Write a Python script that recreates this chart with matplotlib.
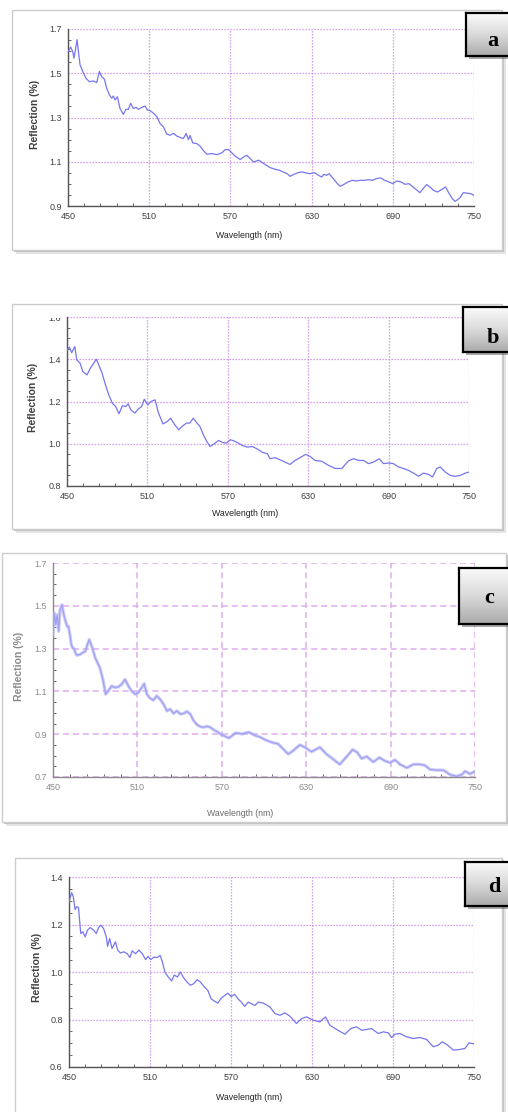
import matplotlib
matplotlib.use("Agg")
import matplotlib.pyplot as plt
import numpy as np
from matplotlib.patches import Rectangle
from matplotlib.ticker import FormatStrFormatter
from matplotlib.colors import LinearSegmentedColormap
from matplotlib.transforms import Bbox, TransformedBbox

# ---- data ----
wl_a = [450, 452, 453.5, 454.4, 455.7, 456.7, 457.7, 458.9, 460.9, 463.3,
        465.8, 468.8, 471.2, 473.2, 474.9, 476.9, 478.6, 480.6, 482.3, 483.5,
        484.8, 486.5, 488.4, 490.9, 492.8, 494.6, 496.3, 498.3, 500.3, 502,
        504.6, 507, 508.6, 510.7, 513.2, 515.7, 518, 520.5, 523, 525.4,
        528, 530.4, 532.8, 535.3, 537.3, 539, 540.2, 542.2, 545.2, 547.7,
        550.2, 552.7, 556.4, 560, 563.7, 566.2, 568.6, 571.1, 573.6, 577.3,
        579.8, 582.2, 584.7, 587.2, 590.9, 594.6, 598.3,
        600, 603, 606, 609, 612, 614, 617, 620, 623, 626,
        629, 632, 635, 637.5, 639, 641, 643, 646, 649, 651,
        654, 657, 660, 663, 666, 669, 672, 675, 678, 681,
        684, 687, 690, 693, 696, 699, 702, 705, 708, 710,
        713, 715, 718, 720, 723, 726, 729, 731, 734, 736,
        738, 740, 742, 745, 748, 750]
refl_a = [1.598, 1.618, 1.598, 1.568, 1.613, 1.652, 1.598, 1.538, 1.508, 1.477,
          1.462, 1.465, 1.458, 1.508, 1.485, 1.473, 1.432, 1.402, 1.387, 1.397,
          1.379, 1.394, 1.341, 1.314, 1.337, 1.337, 1.364, 1.341, 1.346, 1.337,
          1.346, 1.352, 1.334, 1.331, 1.319, 1.303, 1.273, 1.258, 1.225, 1.220,
          1.228, 1.216, 1.210, 1.205, 1.228, 1.200, 1.219, 1.185, 1.182, 1.170,
          1.149, 1.134, 1.137, 1.132, 1.140, 1.155, 1.155, 1.140, 1.125, 1.110,
          1.122, 1.129, 1.114, 1.099, 1.107, 1.092, 1.077,
          1.072, 1.066, 1.062, 1.054, 1.046, 1.034, 1.043, 1.051, 1.054, 1.049,
          1.046, 1.051, 1.039, 1.031, 1.043, 1.039, 1.046, 1.024, 1.001, 0.989,
          0.998, 1.009, 1.016, 1.013, 1.016, 1.016, 1.019, 1.016, 1.024, 1.027,
          1.016, 1.009, 1.001, 1.013, 1.009, 0.998, 1.001, 0.986, 0.971, 0.960,
          0.983, 0.997, 0.983, 0.971, 0.963, 0.974, 0.986, 0.963, 0.933, 0.921,
          0.929, 0.940, 0.960, 0.958, 0.955, 0.948]

wl_b = [450, 451.8, 453.5, 455.8, 457.3, 459.8, 461.8, 464.9, 467.4, 469.9,
        471.9, 473.7, 476.2, 478.7, 481.2, 483.8, 486.3, 488.8, 491.3, 493.8,
        495.6, 497.6, 500.6, 503.1, 505.7, 507.7, 510.2, 512.7, 515.7, 518.3,
        521.6, 524.8, 527.3, 530.4, 533.4, 535.9, 539.2, 541.7, 544.2, 546.7,
        549.2, 551.8, 554.3, 556.8, 560, 563.1, 566.1, 569, 571.9, 574.4,
        577, 580.8, 584.5, 588.3, 592.1, 595.9, 599.6, 601.5, 605.2, 609,
        612.7, 616.4, 620.2, 623.9, 628.1, 631.4, 635.1, 640.1, 645.1, 650.1,
        655.1, 660, 663.8, 667.5, 671.2, 675, 678.7, 682.9, 686.2, 689.9,
        693.6, 697.4, 701.1, 704.8, 708.6, 712.3, 716, 719.8, 722.8, 726,
        728.5, 732.3, 736, 739.7, 743.5, 747.2, 750]
refl_b = [1.444, 1.457, 1.431, 1.460, 1.397, 1.381, 1.342, 1.326, 1.357, 1.381,
          1.400, 1.373, 1.334, 1.279, 1.231, 1.192, 1.176, 1.142, 1.180, 1.176,
          1.189, 1.161, 1.145, 1.164, 1.176, 1.211, 1.184, 1.200, 1.208, 1.145,
          1.094, 1.105, 1.121, 1.090, 1.066, 1.082, 1.098, 1.098, 1.121, 1.100,
          1.082, 1.042, 1.011, 0.987, 1.000, 1.016, 1.006, 1.003, 1.019, 1.014,
          1.006, 0.992, 0.984, 0.987, 0.975, 0.959, 0.953, 0.929, 0.934, 0.924,
          0.913, 0.902, 0.921, 0.934, 0.950, 0.940, 0.921, 0.917, 0.898, 0.883,
          0.883, 0.919, 0.929, 0.921, 0.921, 0.906, 0.913, 0.929, 0.906, 0.909,
          0.906, 0.890, 0.883, 0.874, 0.861, 0.846, 0.861, 0.855, 0.843, 0.883,
          0.890, 0.866, 0.850, 0.846, 0.850, 0.861, 0.866]

wl_c = [450, 451, 452, 453, 454, 455, 456.4, 457, 458, 459,
        460, 461, 462, 463, 464, 465, 466, 467, 469, 471,
        473, 474.5, 475.7, 478, 480, 483.3, 485.7, 487.4, 489.3, 491.7,
        494, 496.4, 498.8, 501.2, 503.6, 505.9, 508.3, 510.7, 513.1, 514.8,
        516.7, 519, 521.4, 523.8, 526.2, 528.6, 531, 533.3, 535.7, 538.1,
        540.5, 542.9, 545.2, 547.6, 550, 552.4, 554.8, 557.1, 559.5, 561.9,
        564.3, 566.7, 569, 571.4, 575, 577.4, 579.8, 582.1, 584.5, 586.9,
        589.3, 591.7, 594, 596.4, 601.8, 606.5, 610, 613.6, 617.2, 620.7,
        625.5, 629, 633.8, 639.7, 644.4, 649.2, 653.9, 658.2, 663, 666.3,
        669.4, 673, 677.7, 682, 686, 689.6, 693.1, 696.7, 701.5, 706.2,
        711, 714.5, 718.1, 722.8, 727.6, 732.3, 737.1, 740.6, 743, 746.6,
        750]
refl_c = [1.365, 1.466, 1.412, 1.458, 1.381, 1.481, 1.505, 1.481, 1.450, 1.427,
          1.404, 1.404, 1.365, 1.319, 1.303, 1.299, 1.280, 1.269, 1.272, 1.280,
          1.288, 1.319, 1.342, 1.303, 1.257, 1.211, 1.149, 1.087, 1.102, 1.125,
          1.118, 1.121, 1.133, 1.156, 1.125, 1.102, 1.087, 1.094, 1.118, 1.136,
          1.087, 1.068, 1.059, 1.079, 1.063, 1.040, 1.009, 1.017, 0.997, 1.009,
          0.994, 0.997, 1.006, 0.994, 0.963, 0.944, 0.935, 0.932, 0.937, 0.932,
          0.920, 0.912, 0.901, 0.893, 0.882, 0.893, 0.906, 0.904, 0.901, 0.906,
          0.909, 0.901, 0.893, 0.889, 0.871, 0.860, 0.855, 0.831, 0.807, 0.823,
          0.850, 0.839, 0.818, 0.839, 0.807, 0.783, 0.759, 0.791, 0.828, 0.815,
          0.786, 0.796, 0.770, 0.791, 0.775, 0.767, 0.780, 0.759, 0.743, 0.759,
          0.759, 0.754, 0.735, 0.732, 0.732, 0.711, 0.703, 0.711, 0.727, 0.714,
          0.727]

wl_d = [450, 452, 453.2, 454.5, 455.7, 457, 458.7, 460.2, 462, 463.7,
        465.7, 468.2, 470.2, 471.9, 473.6, 475.6, 477.6, 478.6, 480.1, 481.9,
        484.4, 486.1, 488.1, 490.6, 493.1, 495.1, 496.8, 499.3, 501.8, 504.3,
        506.8, 508.5, 510.5, 513, 515.5, 517.5, 519.2, 521, 523.5, 526,
        527.9, 530.4, 532.4, 534.9, 537.4, 539.9, 542.4, 544.9, 547.3, 550.3,
        552.8, 555.3, 557.8, 560.3, 562.3, 565.3, 567.7, 570.2, 572.7, 575.2,
        577.7, 580.2, 582.7, 585.2, 587.7, 590.1, 593.9, 598.8, 602.5, 606.2,
        609.9, 613.6, 618.5, 622.3, 626, 630.9, 635.8, 640, 643.2, 648.2,
        654.4, 658.8, 663, 666.7, 670.4, 674.1, 679.1, 682.8, 686.5, 689,
        691.4, 695.1, 700.1, 705, 710, 714.9, 719.8, 723.5, 726.5, 730.5,
        734.7, 739.6, 743.3, 746.3, 750]
refl_d = [1.296, 1.334, 1.317, 1.263, 1.275, 1.272, 1.162, 1.169, 1.148, 1.176,
          1.187, 1.176, 1.162, 1.187, 1.197, 1.183, 1.148, 1.108, 1.141, 1.099,
          1.127, 1.092, 1.080, 1.085, 1.077, 1.061, 1.089, 1.077, 1.092, 1.077,
          1.052, 1.066, 1.052, 1.063, 1.061, 1.070, 1.042, 1.000, 0.979, 0.962,
          0.987, 0.979, 1.000, 0.976, 0.958, 0.944, 0.951, 0.968, 0.958, 0.937,
          0.923, 0.887, 0.877, 0.869, 0.887, 0.901, 0.911, 0.897, 0.906, 0.887,
          0.873, 0.855, 0.873, 0.866, 0.859, 0.873, 0.869, 0.853, 0.825, 0.818,
          0.828, 0.814, 0.783, 0.804, 0.811, 0.797, 0.790, 0.811, 0.776, 0.758,
          0.738, 0.762, 0.769, 0.755, 0.758, 0.762, 0.741, 0.748, 0.744, 0.724,
          0.738, 0.741, 0.727, 0.720, 0.724, 0.716, 0.685, 0.692, 0.706, 0.692,
          0.671, 0.674, 0.678, 0.702, 0.697]

panel_labels = ["a", "b", "c", "d"]
y_limits = [(0.9, 1.7), (0.8, 1.6), (0.7, 1.7), (0.6, 1.4)]
x_ticks = [450, 510, 570, 630, 690, 750]
x_label = "Wavelength (nm)"
y_label = "Reflection (%)"

W, H = 508, 1112
plt.rcParams["font.family"] = ["Liberation Sans Narrow", "Liberation Sans", "DejaVu Sans"]

fig = plt.figure(figsize=(W / 100, H / 100), dpi=100)
fig.patch.set_facecolor("white")


def frac(x0, y0, x1, y1):
    # pixel box (top-left origin) -> figure fraction rect
    return [x0 / W, 1 - y1 / H, (x1 - x0) / W, (y1 - y0) / H]


def box(x0, y0, x1, y1, **kw):
    r = frac(x0, y0, x1, y1)
    fig.add_artist(Rectangle((r[0], r[1]), r[2], r[3], transform=fig.transFigure, **kw))


# layout of each panel, in pixels
layout = [
    dict(frame=(12, 10, 502, 250), ax=(68, 29, 474, 206), lab=(466, 13, 520, 56),
         txt=(493, 45.7), ylab=(34.5, 114), xlab=(249, 235)),
    dict(frame=(12, 304, 502, 529), ax=(67, 317, 469, 486), lab=(463, 307, 520, 352),
         txt=(493, 343), ylab=(33, 397.5), xlab=(245, 514)),
    dict(frame=(2, 553, 506, 822), ax=(53, 563, 475, 777), lab=(459, 568, 520, 624),
         txt=(489, 603), ylab=(19, 666), xlab=(240, 813)),
    dict(frame=(15, 858, 502, 1125), ax=(69, 877, 474, 1067), lab=(465, 862, 520, 906),
         txt=(494, 892), ylab=(36.5, 967.5), xlab=(249, 1098)),
]
series = [(wl_a, refl_a), (wl_b, refl_b), (wl_c, refl_c), (wl_d, refl_d)]

grad_cmap = LinearSegmentedColormap.from_list("g", ["#fbfbfb", "#dadada", "#ababab"])

for i, (lay, (wl, refl)) in enumerate(zip(layout, series)):
    blurred = (i == 2)
    fx0, fy0, fx1, fy1 = lay["frame"]
    # frame with soft drop shadow
    box(fx0 + 4, fy0 + 4, fx1 + 4, fy1 + 4, facecolor="#e4e4e4", edgecolor="none", zorder=-3)
    box(fx0 + 2, fy0 + 2, fx1 + 2, fy1 + 2, facecolor="#c4c4c4", edgecolor="none", zorder=-2)
    box(fx0, fy0, fx1, fy1, facecolor="white", edgecolor="#cccccc", linewidth=1, zorder=-1)

    ax = fig.add_axes(frac(*lay["ax"]))
    ax.set_facecolor("none")
    if blurred:
        ax.plot(wl, refl, color="#bcbcf7", linewidth=2.4, alpha=0.7, zorder=3)
        ax.plot(wl, refl, color="#a0a0f2", linewidth=0.9, zorder=3)
        grid_kw = dict(color="#dfaeee", linestyle=(0, (4, 2.5)), linewidth=1.1)
        tcol = "#8a8a8a"
    else:
        ax.plot(wl, refl, color="#7676ee", linewidth=0.9, zorder=3)
        grid_kw = dict(color="#c984ec", linestyle=(0, (1, 1.4)), linewidth=0.9)
        tcol = "#404040"

    y0, y1 = y_limits[i]
    ax.set_xlim(450, 750)
    ax.set_ylim(y0, y1)
    ax.set_xticks(x_ticks)
    ax.set_xticks(np.arange(450, 751, 12), minor=True)
    ax.set_yticks(np.arange(y0, y1 + 0.01, 0.2))
    ax.set_yticks(np.arange(y0, y1 + 0.01, 0.05), minor=True)
    ax.yaxis.set_major_formatter(FormatStrFormatter("%.1f"))
    ax.grid(True, which="major", **grid_kw)
    for s in ("top", "right"):
        ax.spines[s].set_visible(False)
    for s in ("left", "bottom"):
        ax.spines[s].set_color("#8a8a8a" if blurred else "#555555")
        ax.spines[s].set_linewidth(1.0)
    ax.tick_params(which="major", direction="in", length=0, pad=4.5,
                   labelsize=6.5, labelcolor=tcol)
    ax.tick_params(which="minor", direction="in", length=2.5, width=0.7,
                   color="#666666")

    if i == 1:
        # the top tick label is cut by the panel edge in the original
        clip = TransformedBbox(Bbox([[0, 0], [1, 1 - 318 / H]]), fig.transFigure)
        for t in ax.yaxis.get_major_ticks():
            t.label1.set_clip_box(clip)
            t.label1.set_clip_on(True)

    ylx, yly = lay["ylab"]
    fig.text(ylx / W, 1 - yly / H, y_label, rotation=90, ha="center", va="center",
             fontsize=7.5, fontweight="bold", color=tcol)
    xlx, xly = lay["xlab"]
    fig.text(xlx / W, 1 - xly / H, x_label, ha="center", va="center",
             fontsize=6.3, color="#222222" if not blurred else "#6a6a6a")

    # panel letter box
    lx0, ly0, lx1, ly1 = lay["lab"]
    box(lx0 + 3, ly0 + 3, lx1 + 3, ly1 + 3, facecolor="#555555", alpha=0.5,
        edgecolor="none", zorder=4)
    lab_ax = fig.add_axes(frac(lx0, ly0, lx1, ly1), zorder=5)
    lab_ax.imshow(np.linspace(0, 1, 64).reshape(-1, 1), cmap=grad_cmap,
                  aspect="auto", extent=[0, 1, 0, 1])
    lab_ax.set_xticks([])
    lab_ax.set_yticks([])
    for s in lab_ax.spines.values():
        s.set_color("black")
        s.set_linewidth(1.6)
    tx, ty = lay["txt"]
    fig.text(tx / W, 1 - ty / H, panel_labels[i], ha="center", va="baseline",
             fontsize=16, fontweight="bold", family=["Liberation Serif", "DejaVu Serif"],
             zorder=6)

fig.savefig("out.png", dpi=100, facecolor="white")
